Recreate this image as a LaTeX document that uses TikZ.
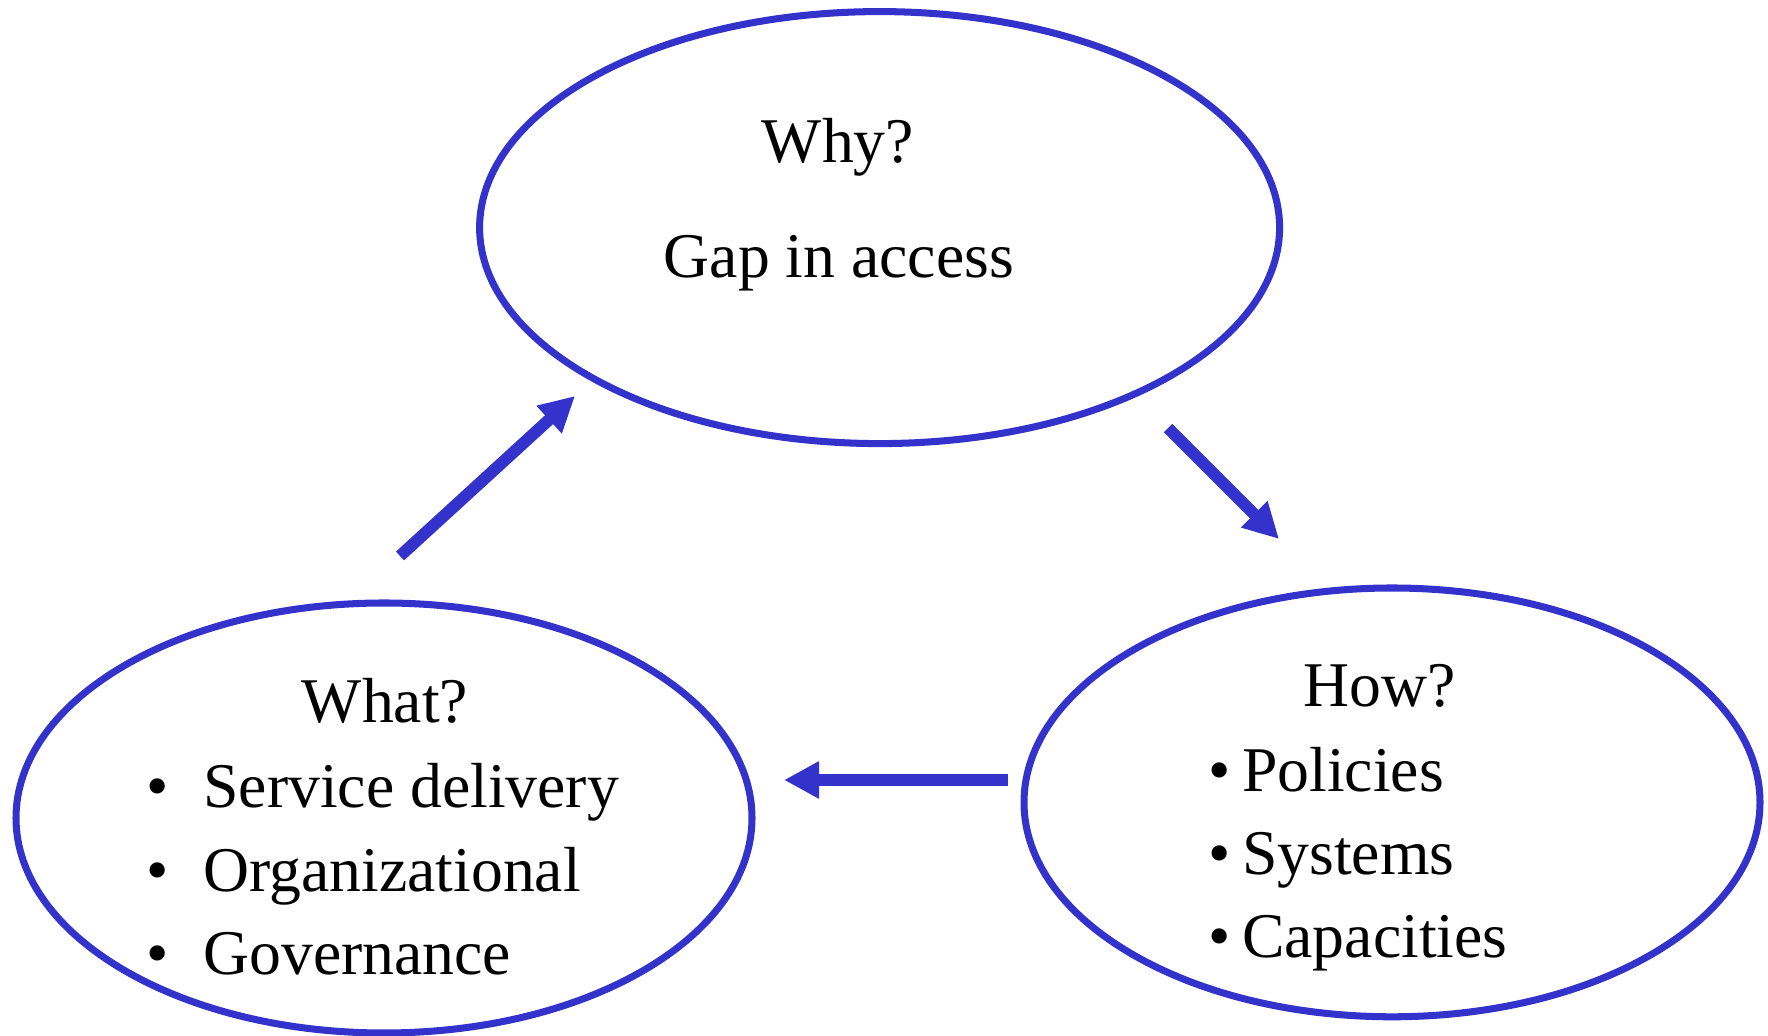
\documentclass[tikz,border=0pt]{standalone}
\usepackage{fontspec}
\setmainfont{Liberation Serif}
\usepackage{tikz}
\usetikzlibrary{shapes.geometric, arrows.meta}
\definecolor{loopblue}{RGB}{51,51,204}

\begin{document}
\begin{tikzpicture}[font=\fontsize{45.3}{54}\selectfont]

    % Define styles
    \tikzstyle{bubble} = [ellipse, draw=loopblue, line width=5pt, inner sep=0pt]
    \tikzstyle{head} = [anchor=base, inner sep=0pt]
    \tikzstyle{item} = [anchor=base west, inner sep=0pt]
    \tikzstyle{flow} = [draw=loopblue, line width=8.5pt, -{Triangle[width=25pt,length=25pt]}, loopblue]

    \useasboundingbox (0,0) rectangle (44.2,25.9);

    % Ellipses
    \node[bubble, minimum width=20cm, minimum height=10.8cm] (why) at (21.99, 20.21) {};
    \node[bubble, minimum width=18.4cm, minimum height=10.75cm] (what) at (9.6, 5.45) {};
    \node[bubble, minimum width=18.4cm, minimum height=10.72cm] (how) at (34.8, 5.84) {};

    % Why
    \node[head] (whyHead) at (20.95, 21.825) {Why?};
    \node[head] (whyGap) at (20.975, 18.95) {Gap in access};

    % What
    \node[head] (whatHead) at (9.625, 7.825) {What?};
    \node[item] (whatService) at (3.66, 5.7) {\makebox[1.42cm][l]{\textbullet}Service delivery};
    \node[item] (whatOrg) at (3.66, 3.6) {\makebox[1.42cm][l]{\textbullet}Organizational};
    \node[item] (whatGov) at (3.66, 1.525) {\makebox[1.42cm][l]{\textbullet}Governance};

    % How
    \node[head] (howHead) at (34.5, 8.225) {How?};
    \node[item] (howPol) at (30.2, 6.1) {\makebox[0.85cm][l]{\textbullet}Policies};
    \node[item] (howSys) at (30.2, 4.025) {\makebox[0.85cm][l]{\textbullet}Systems};
    \node[item] (howCap) at (30.2, 1.95) {\makebox[0.85cm][l]{\textbullet}Capacities};

    % Arrow ends
    \coordinate (whatOut) at (10.0, 12.0);
    \coordinate (whyIn) at (14.375, 16.0);
    \coordinate (whyOut) at (29.2, 15.2);
    \coordinate (howIn) at (31.975, 12.425);
    \coordinate (howOut) at (25.2, 6.4);
    \coordinate (whatIn) at (19.6, 6.4);

    % Flows
    \draw[flow] (whatOut) -- (whyIn);
    \draw[flow] (whyOut) -- (howIn);
    \draw[flow] (howOut) -- (whatIn);

\end{tikzpicture}
\end{document}
